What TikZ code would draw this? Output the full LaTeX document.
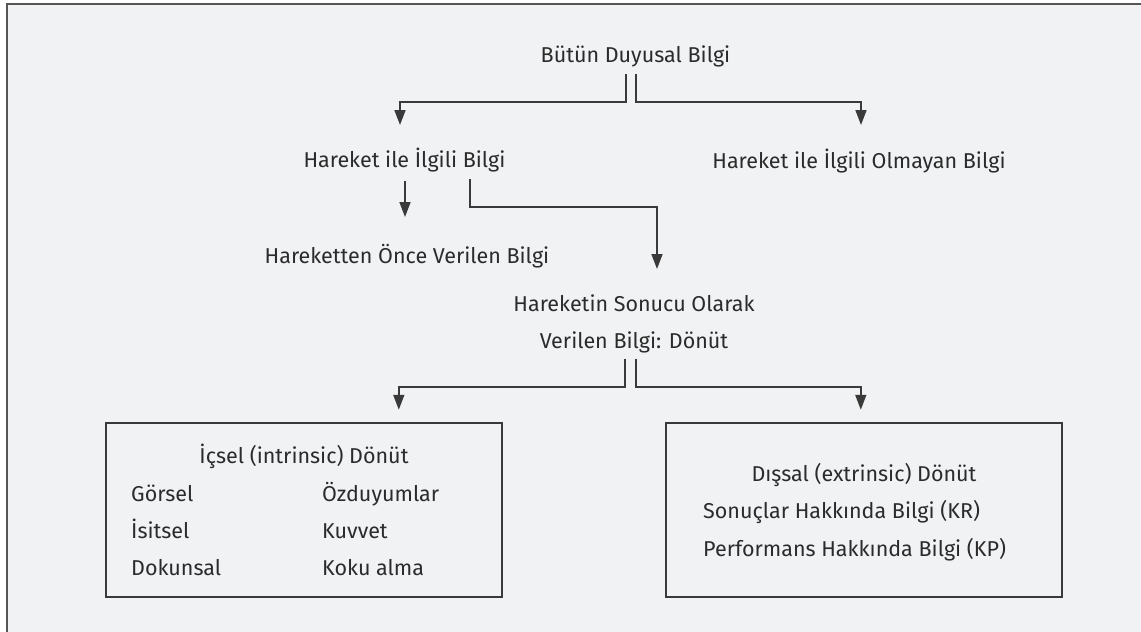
\documentclass[tikz,border=0pt]{standalone}
\usepackage{fontspec}
\setmainfont{Fira Sans}
\usepackage{tikz}
\usetikzlibrary{calc,arrows.meta}
\definecolor{page}{HTML}{F1F2F4}
\definecolor{frame}{HTML}{555555}
\definecolor{ink}{HTML}{2B2B2B}
\definecolor{wire}{HTML}{3A3A3A}
\tikzset{
  lab/.style={text=ink, inner sep=0pt, text height=15pt, text depth=4pt,
    font=\fontsize{21.5}{25}\selectfont},
  arr/.style={draw=wire, line width=1.7pt,
    -{Triangle[length=15pt,width=11pt]}},
  wirebox/.style={draw=wire, line width=1.9pt, minimum width=396pt,
    minimum height=174pt, inner sep=0pt}
}
\begin{document}
\begin{tikzpicture}[x=1pt,y=-1pt]
  \useasboundingbox (0,0) rectangle (1141,632);
  \fill[white] (0,0) rectangle (1141,632);
  \fill[page] (7,4) rectangle (1141,632);
  \draw[frame, line width=2pt] (7,632) -- (7,4) -- (1141,4);

  % Levels of information
  \node[lab] (top) at (635.5,57) {Bütün Duyusal Bilgi};
  \node[lab] (rel) at (404.5,162) {Hareket ile İlgili Bilgi};
  \node[lab] (unrel) at (859,163) {Hareket ile İlgili Olmayan Bilgi};
  \node[lab] (before) at (407,258) {Hareketten Önce Verilen Bilgi};
  \node[lab] (fbA) at (634,306) {Hareketin Sonucu Olarak};
  \node[lab] (fbB) at (634,343) {Verilen Bilgi: Dönüt};

  % Feedback boxes
  \node[wirebox] (intr) at (303.8,509.7) {};
  \node[wirebox] (extr) at (863.8,509.7) {};

  \node[lab] (intrT) at (304,458) {İçsel (intrinsic) Dönüt};
  \node[lab, anchor=west] (vis) at (131,496) {Görsel};
  \node[lab, anchor=west] (aud) at (131,533) {İsitsel};
  \node[lab, anchor=west] (tac) at (131,570) {Dokunsal};
  \node[lab, anchor=west] (prop) at (322,496) {Özduyumlar};
  \node[lab, anchor=west] (force) at (322,533) {Kuvvet};
  \node[lab, anchor=west] (smell) at (322,570) {Koku alma};

  \node[lab] (extrT) at (864,476) {Dışsal (extrinsic) Dönüt};
  \node[lab, anchor=west] (kr) at (703,513) {Sonuçlar Hakkında Bilgi (KR)};
  \node[lab, anchor=west] (kp) at (703,551) {Performans Hakkında Bilgi (KP)};

  % Connectors
  \draw[arr] ($(top)+(-9.5,17)$) -- ++(0,28) -| ($(rel)+(-4.5,-37)$);
  \draw[arr] ($(top)+(0.5,17)$) -- ++(0,28) -| ($(unrel)+(2,-38)$);
  \draw[arr] ($(rel)+(0.5,19)$) -- ($(before)+(-2,-41)$);
  \draw[arr] ($(rel)+(65.5,17)$) -- ++(0,28) -| ($(fbA)+(23,-37)$);
  \draw[arr] ($(fbB)+(-9,16)$) -- ++(0,28) -| ($(intr.north)+(95,-12)$);
  \draw[arr] ($(fbB)+(2,16)$) -- ++(0,28) -| ($(extr.north)+(-3,-12)$);
\end{tikzpicture}
\end{document}
